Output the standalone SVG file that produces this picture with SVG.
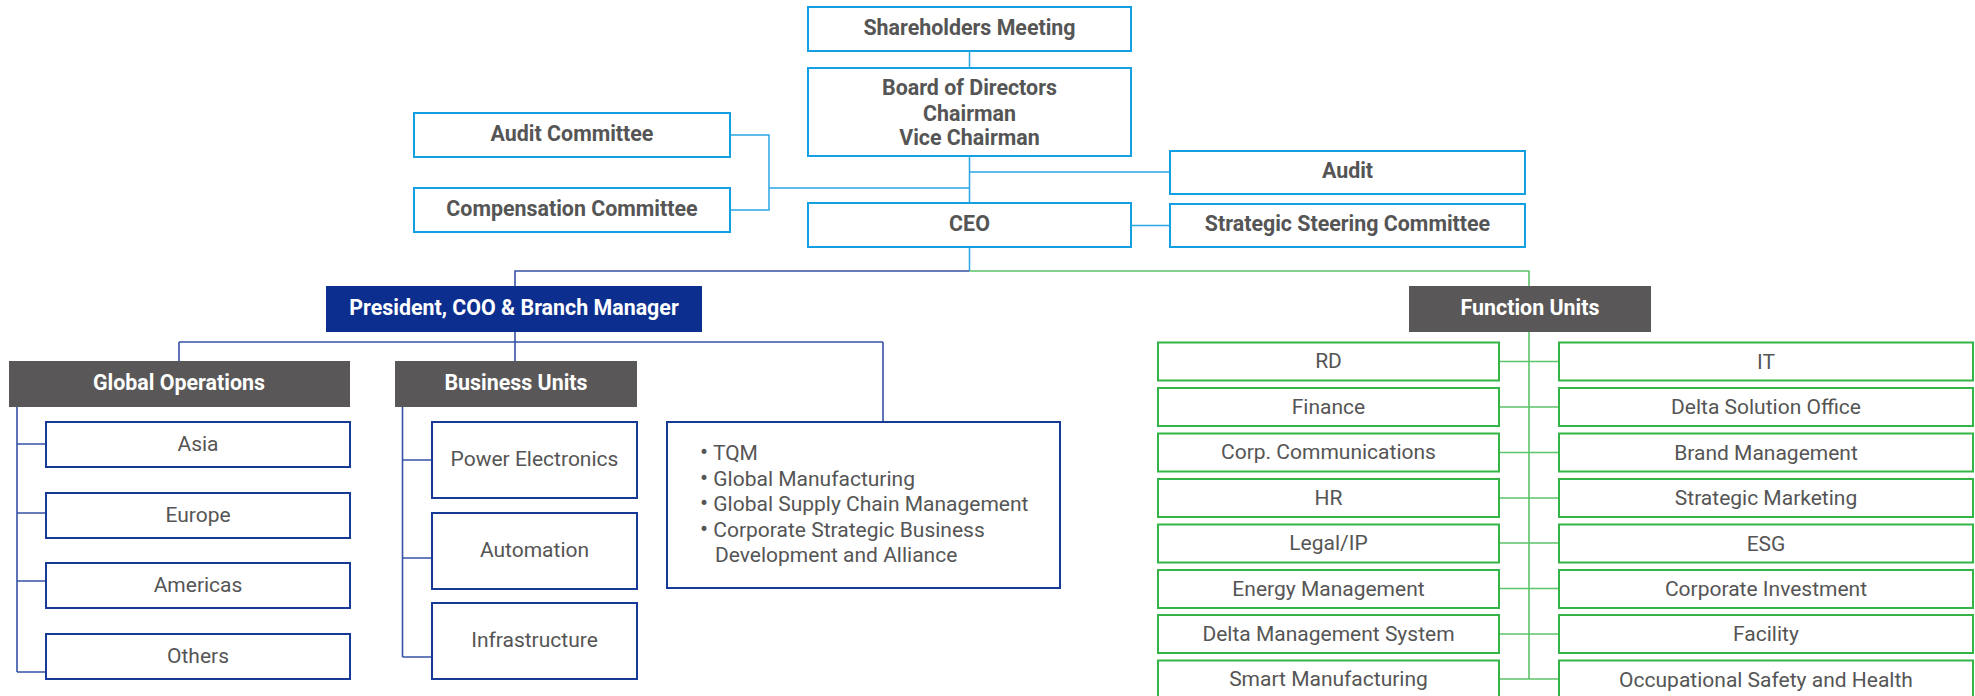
<svg xmlns="http://www.w3.org/2000/svg" width="1975" height="696" viewBox="0 0 1975 696">
<style>
text{font-family:Roboto,"Liberation Sans",Arial,sans-serif;font-size:21px;fill:#555;text-anchor:middle}
.b{font-weight:700;font-size:21.4px}
.w{fill:#fff;font-weight:700;font-size:21.4px}
.tb{fill:#fff;stroke:#12a0e3;stroke-width:2}
.nb{fill:#fff;stroke:#173a96;stroke-width:2}
.gb{fill:#fff;stroke:#34b446;stroke-width:2}
.hd{fill:#595757}
.pr{fill:#0c2f8f}
.cb{fill:none;stroke:#2aa6e4;stroke-width:1.5}
.cn{fill:none;stroke:#3552a6;stroke-width:1.6}
.cg{fill:none;stroke:#5cc46a;stroke-width:1.6}
.l{text-anchor:start}
</style>
<g id="connectors">
<path class="cb" d="M969.5 51V68M969.5 156V203M730 135H769V210H730M769 188H969.5M969.5 172H1170M1131 225.5H1170M969.5 247V271"/>
<path class="cn" d="M969.5 271H515V286M515 332V342M179 342H883M179 342V361M515 342V361M883 342V422M17 407V672M17 444H46M17 513H46M17 581H46M17 672H46M402.5 407V657M402.5 460H432M402.5 558H432M402.5 657H432"/>
<path class="cg" d="M969.5 271H1529V286M1529 332V679M1499 361.5H1559M1499 407H1559M1499 452.5H1559M1499 498H1559M1499 543H1559M1499 588.5H1559M1499 634H1559M1499 679H1559"/>
</g>
<g id="shareholders"><rect class="tb" x="808" y="7" width="323" height="44"/><text class="b" x="969.5" y="34.5">Shareholders Meeting</text></g>
<g id="board"><rect class="tb" x="808" y="68" width="323" height="88"/><text class="b" x="969.5" y="95">Board of Directors</text><text class="b" x="969.5" y="120.5">Chairman</text><text class="b" x="969.5" y="145">Vice Chairman</text></g>
<g id="audit-committee"><rect class="tb" x="414" y="113" width="316" height="44"/><text class="b" x="572" y="140.5">Audit Committee</text></g>
<g id="compensation-committee"><rect class="tb" x="414" y="188" width="316" height="44"/><text class="b" x="572" y="215.5">Compensation Committee</text></g>
<g id="audit"><rect class="tb" x="1170" y="151" width="355" height="43"/><text class="b" x="1347.5" y="178">Audit</text></g>
<g id="ceo"><rect class="tb" x="808" y="203" width="323" height="44"/><text class="b" x="969.5" y="230.5">CEO</text></g>
<g id="steering"><rect class="tb" x="1170" y="204" width="355" height="43"/><text class="b" x="1347.5" y="231">Strategic Steering Committee</text></g>
<g id="president"><rect class="pr" x="326" y="286" width="376" height="46"/><text class="w" x="514" y="314.5">President, COO &amp; Branch Manager</text></g>
<g id="global-operations"><rect class="hd" x="9" y="361" width="341" height="46"/><text class="w" x="179" y="390">Global Operations</text></g>
<g id="business-units"><rect class="hd" x="395" y="361" width="242" height="46"/><text class="w" x="516" y="390">Business Units</text></g>
<g id="asia"><rect class="nb" x="46" y="422" width="304" height="45"/><text x="198" y="451">Asia</text></g>
<g id="europe"><rect class="nb" x="46" y="493" width="304" height="45"/><text x="198" y="522">Europe</text></g>
<g id="americas"><rect class="nb" x="46" y="563" width="304" height="45"/><text x="198" y="592">Americas</text></g>
<g id="others"><rect class="nb" x="46" y="634" width="304" height="45"/><text x="198" y="663">Others</text></g>
<g id="power-electronics"><rect class="nb" x="432" y="422" width="205" height="76"/><text x="534.5" y="466">Power Electronics</text></g>
<g id="automation"><rect class="nb" x="432" y="513" width="205" height="76"/><text x="534.5" y="557">Automation</text></g>
<g id="infrastructure"><rect class="nb" x="432" y="603" width="205" height="76"/><text x="534.5" y="647">Infrastructure</text></g>
<g id="tqm"><rect class="nb" x="667" y="422" width="393" height="166"/>
<text class="l" x="700" y="460"><tspan font-size="24">•</tspan> TQM</text>
<text class="l" x="700" y="486"><tspan font-size="24">•</tspan> Global Manufacturing</text>
<text class="l" x="700" y="511"><tspan font-size="24">•</tspan> Global Supply Chain Management</text>
<text class="l" x="700" y="537"><tspan font-size="24">•</tspan> Corporate Strategic Business</text>
<text class="l" x="715" y="562">Development and Alliance</text></g>
<g id="function-units"><rect class="hd" x="1409" y="286" width="242" height="46"/><text class="w" x="1530" y="314.5">Function Units</text></g>
<g id="rd"><rect class="gb" x="1158" y="342.5" width="341" height="38"/><text x="1328.5" y="368">RD</text></g>
<g id="finance"><rect class="gb" x="1158" y="388" width="341" height="38"/><text x="1328.5" y="413.5">Finance</text></g>
<g id="corp-comm"><rect class="gb" x="1158" y="433.5" width="341" height="38"/><text x="1328.5" y="459">Corp. Communications</text></g>
<g id="hr"><rect class="gb" x="1158" y="479" width="341" height="38"/><text x="1328.5" y="504.5">HR</text></g>
<g id="legal"><rect class="gb" x="1158" y="524.5" width="341" height="38"/><text x="1328.5" y="550">Legal/IP</text></g>
<g id="energy"><rect class="gb" x="1158" y="570" width="341" height="38"/><text x="1328.5" y="595.5">Energy Management</text></g>
<g id="dms"><rect class="gb" x="1158" y="615" width="341" height="38"/><text x="1328.5" y="640.5">Delta Management System</text></g>
<g id="smart-mfg"><rect class="gb" x="1158" y="660.5" width="341" height="38"/><text x="1328.5" y="686">Smart Manufacturing</text></g>
<g id="it"><rect class="gb" x="1559" y="342.5" width="414" height="38"/><text x="1766" y="369">IT</text></g>
<g id="dso"><rect class="gb" x="1559" y="388" width="414" height="38"/><text x="1766" y="414">Delta Solution Office</text></g>
<g id="brand"><rect class="gb" x="1559" y="433.5" width="414" height="38"/><text x="1766" y="459.5">Brand Management</text></g>
<g id="marketing"><rect class="gb" x="1559" y="479" width="414" height="38"/><text x="1766" y="505">Strategic Marketing</text></g>
<g id="esg"><rect class="gb" x="1559" y="524.5" width="414" height="38"/><text x="1766" y="550.5">ESG</text></g>
<g id="investment"><rect class="gb" x="1559" y="570" width="414" height="38"/><text x="1766" y="596">Corporate Investment</text></g>
<g id="facility"><rect class="gb" x="1559" y="615" width="414" height="38"/><text x="1766" y="641">Facility</text></g>
<g id="osh"><rect class="gb" x="1559" y="660.5" width="414" height="38"/><text x="1766" y="686.5">Occupational Safety and Health</text></g>
</svg>
